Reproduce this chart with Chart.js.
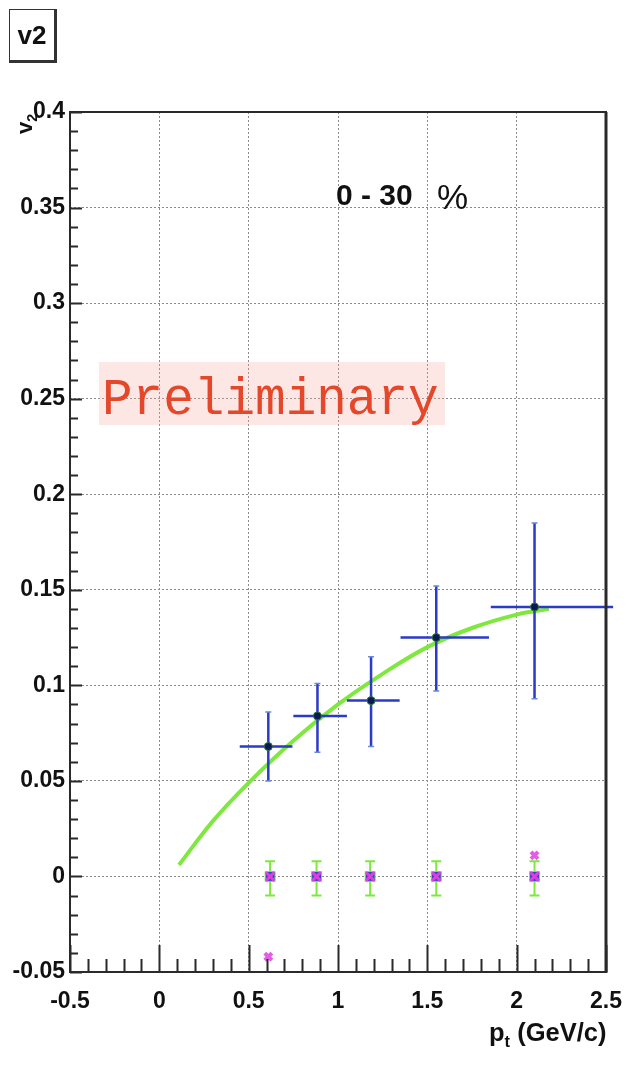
<!DOCTYPE html>
<html>
<head>
<meta charset="utf-8">
<title>v2 vs pt</title>
<script src="https://cdn.jsdelivr.net/npm/chart.js@4/dist/chart.umd.min.js"></script>
<style>
  body { margin: 0; background: #fff; }
  #wrap { position: relative; width: 628px; height: 1073px; overflow: hidden; }
  #plot { position: absolute; left: 0; top: 0; }
  .lbl { position: absolute; white-space: nowrap; line-height: 1; font-family: "Liberation Sans", Arial, sans-serif; color: #111; }
  #histName { left: 9px; top: 9px; width: 44px; height: 50px; border: 1.5px solid #333; border-right-width: 3px; border-bottom-width: 3px;
              font-weight: bold; font-size: 26px; text-align: center; line-height: 50px; box-sizing: content-box; }
  #prelimBg { position: absolute; left: 99px; top: 362px; width: 346px; height: 63px; background: rgba(246, 170, 160, 0.28); }
  #prelim { left: 102px; top: 375px; font-family: "Liberation Mono", "Courier New", monospace; font-size: 51px; color: #e4472a; }
  #cent { left: 336px; top: 180px; font-weight: bold; font-size: 30px; }
  #pct { left: 437px; top: 179px; font-size: 35px; }
  #xTitle { left: 489px; top: 1020px; font-weight: bold; font-size: 25.5px; }
  #yTitle { left: 14px; top: 134px; font-weight: bold; font-size: 22px; transform: rotate(-90deg); transform-origin: 0 0; }
  sub { font-size: 65%; vertical-align: -0.35em; }
</style>
</head>
<body>
<div id="wrap">
  <canvas id="plot" width="628" height="1073"></canvas>
  <div id="prelimBg"></div>
  <div class="lbl" id="prelim">Preliminary</div>
  <div class="lbl" id="histName">v2</div>
  <div class="lbl" id="cent">0 - 30</div>
  <div class="lbl" id="pct">%</div>
  <div class="lbl" id="xTitle">p<sub>t</sub> (GeV/c)</div>
  <div class="lbl" id="yTitle">v<sub>2</sub></div>
</div>
<script>
// v2 measured in pt bins (bin centres, values and error ranges)
const ptBins   = [0.61, 0.885, 1.185, 1.55, 2.10];
const v2Vals   = [0.068, 0.084, 0.092, 0.125, 0.141];
const v2Low    = [0.050, 0.065, 0.068, 0.097, 0.093];
const v2High   = [0.086, 0.101, 0.115, 0.152, 0.185];
const ptLow    = [0.45, 0.75, 1.05, 1.35, 1.855];
const ptHigh   = [0.745, 1.05, 1.345, 1.845, 2.54];

// reference curve
const curvePt  = [0.11, 0.30, 0.50, 0.75, 1.00, 1.25, 1.50, 1.75, 2.00, 2.18];
const curveV2  = [0.006, 0.029, 0.049, 0.071, 0.090, 0.106, 0.120, 0.130, 0.137, 0.140];

// points sitting at zero with their error ranges
const zeroPt   = [0.62, 0.88, 1.18, 1.55, 2.10];
const zeroVal  = [0, 0, 0, 0, 0];
const zeroLow  = [-0.010, -0.010, -0.010, -0.010, -0.010];
const zeroHigh = [0.008, 0.008, 0.008, 0.008, 0.008];

// stray markers
const starPt   = [0.61, 2.10];
const starVal  = [-0.042, 0.011];

// axis ticks
const xTickValues = [-0.5, 0, 0.5, 1, 1.5, 2, 2.5];
const xTickLabels = ['-0.5', '0', '0.5', '1', '1.5', '2', '2.5'];
const yTickValues = [-0.05, 0, 0.05, 0.1, 0.15, 0.2, 0.25, 0.3, 0.35, 0.4];
const yTickLabels = ['-0.05', '0', '0.05', '0.1', '0.15', '0.2', '0.25', '0.3', '0.35', '0.4'];

const toXY = (xs, ys) => xs.map((x, i) => ({ x: x, y: ys[i] }));

// error bars drawn just before the markers they belong to
const errorBars = {
  id: 'errorBars',
  beforeDatasetDraw(chart, args) {
    const ctx = chart.ctx;
    const xs = chart.scales.x, ys = chart.scales.y;
    if (args.index === 1) {
      ctx.save();
      ctx.strokeStyle = '#2a3bc8';
      ctx.lineWidth = 2.5;
      for (let i = 0; i < ptBins.length; i++) {
        const px = xs.getPixelForValue(ptBins[i]);
        const py = ys.getPixelForValue(v2Vals[i]);
        ctx.beginPath();
        ctx.moveTo(xs.getPixelForValue(ptLow[i]), py);
        ctx.lineTo(xs.getPixelForValue(ptHigh[i]), py);
        ctx.moveTo(px, ys.getPixelForValue(v2Low[i]));
        ctx.lineTo(px, ys.getPixelForValue(v2High[i]));
        ctx.stroke();
        // small caps
        ctx.save();
        ctx.strokeStyle = '#6a8ad8';
        ctx.lineWidth = 1.5;
        ctx.beginPath();
        [v2Low[i], v2High[i]].forEach(v => {
          const y = ys.getPixelForValue(v);
          ctx.moveTo(px - 3, y);
          ctx.lineTo(px + 3, y);
        });
        ctx.stroke();
        ctx.restore();
      }
      ctx.restore();
    }
    if (args.index === 2) {
      ctx.save();
      ctx.strokeStyle = '#7ee83f';
      ctx.lineWidth = 2;
      for (let i = 0; i < zeroPt.length; i++) {
        const px = xs.getPixelForValue(zeroPt[i]);
        const lo = ys.getPixelForValue(zeroLow[i]);
        const hi = ys.getPixelForValue(zeroHigh[i]);
        ctx.beginPath();
        ctx.moveTo(px, lo); ctx.lineTo(px, hi);
        ctx.moveTo(px - 5, lo); ctx.lineTo(px + 5, lo);
        ctx.moveTo(px - 5, hi); ctx.lineTo(px + 5, hi);
        ctx.stroke();
      }
      ctx.restore();
    }
  }
};

// box around the plot with inward major and minor ticks
const frame = {
  id: 'frame',
  afterDraw(chart) {
    const ctx = chart.ctx;
    const a = chart.chartArea;
    const xs = chart.scales.x, ys = chart.scales.y;
    ctx.save();
    ctx.strokeStyle = '#2a2a2a';
    ctx.lineWidth = 2;
    ctx.strokeRect(a.left, a.top, a.right - a.left, a.bottom - a.top);
    ctx.lineWidth = 3;
    ctx.beginPath();
    ctx.moveTo(a.right, a.top);
    ctx.lineTo(a.right, a.bottom + 1);
    ctx.stroke();

    ctx.lineWidth = 2;
    ctx.beginPath();
    for (let k = 0; k <= 45; k++) {
      const v = ys.min + k * 0.01;
      const y = Math.round(ys.getPixelForValue(v)) + 0.5;
      const len = k % 5 === 0 ? 12 : 8;
      ctx.moveTo(a.left, y);
      ctx.lineTo(a.left + len, y);
    }
    for (let k = 0; k <= 30; k++) {
      const v = xs.min + k * 0.1;
      const x = Math.round(xs.getPixelForValue(v)) + 0.5;
      const len = k % 5 === 0 ? 27 : 13;
      ctx.moveTo(x, a.bottom);
      ctx.lineTo(x, a.bottom - len);
    }
    ctx.stroke();
    ctx.restore();
  }
};

const edgeless = (scaleMin, scaleMax) => c =>
  (Math.abs(c.tick.value - scaleMin) < 1e-9 || Math.abs(c.tick.value - scaleMax) < 1e-9) ? 'rgba(0,0,0,0)' : '#8a8a8a';

const tickFont = { family: '"Liberation Sans", Arial, sans-serif', size: 23, weight: 'bold' };

new Chart(document.getElementById('plot'), {
  type: 'scatter',
  data: {
    datasets: [
      {
        type: 'line',
        data: toXY(curvePt, curveV2),
        borderColor: '#7ee83f',
        borderWidth: 4,
        pointRadius: 0,
        tension: 0.4,
        order: 5
      },
      {
        data: toXY(ptBins, v2Vals),
        pointStyle: 'circle',
        pointRadius: 4,
        backgroundColor: '#0a1a55',
        borderColor: '#2f7a30',
        borderWidth: 1,
        order: 1
      },
      {
        data: toXY(zeroPt, zeroVal),
        pointStyle: 'rect',
        pointRadius: 7,
        backgroundColor: '#3444e0',
        borderColor: '#7ee83f',
        borderWidth: 1,
        order: 3
      },
      {
        data: toXY(zeroPt, zeroVal),
        pointStyle: 'crossRot',
        pointRadius: 6,
        borderColor: '#e23fd8',
        borderWidth: 3,
        order: 2
      },
      {
        data: toXY(starPt, starVal),
        pointStyle: 'crossRot',
        pointRadius: 5,
        borderColor: '#e55ce8',
        borderWidth: 4,
        order: 2
      }
    ]
  },
  options: {
    responsive: false,
    devicePixelRatio: 1,
    animation: false,
    layout: { padding: { top: 112, right: 22, left: 0, bottom: 0 } },
    plugins: { legend: { display: false }, tooltip: { enabled: false } },
    scales: {
      x: {
        type: 'linear',
        min: -0.5,
        max: 2.5,
        afterBuildTicks: s => { s.ticks = xTickValues.map(v => ({ value: v })); },
        afterFit: s => { s.height = 101; s.paddingLeft = 0; s.paddingRight = 0; },
        ticks: {
          autoSkip: false,
          maxRotation: 0,
          padding: 16,
          color: '#111',
          font: tickFont,
          callback: (v, i) => xTickLabels[i]
        },
        grid: { drawTicks: false, color: edgeless(-0.5, 2.5), lineWidth: 1 },
        border: { display: false, dash: [2, 2] }
      },
      y: {
        type: 'linear',
        min: -0.05,
        max: 0.4,
        afterBuildTicks: s => { s.ticks = yTickValues.map(v => ({ value: v })); },
        afterFit: s => { s.width = 70; s.paddingTop = 0; s.paddingBottom = 0; },
        ticks: {
          autoSkip: false,
          padding: 5,
          color: '#111',
          font: tickFont,
          callback: (v, i) => yTickLabels[i]
        },
        grid: { drawTicks: false, color: edgeless(-0.05, 0.4), lineWidth: 1 },
        border: { display: false, dash: [2, 2] }
      }
    }
  },
  plugins: [errorBars, frame]
});
</script>
</body>
</html>
